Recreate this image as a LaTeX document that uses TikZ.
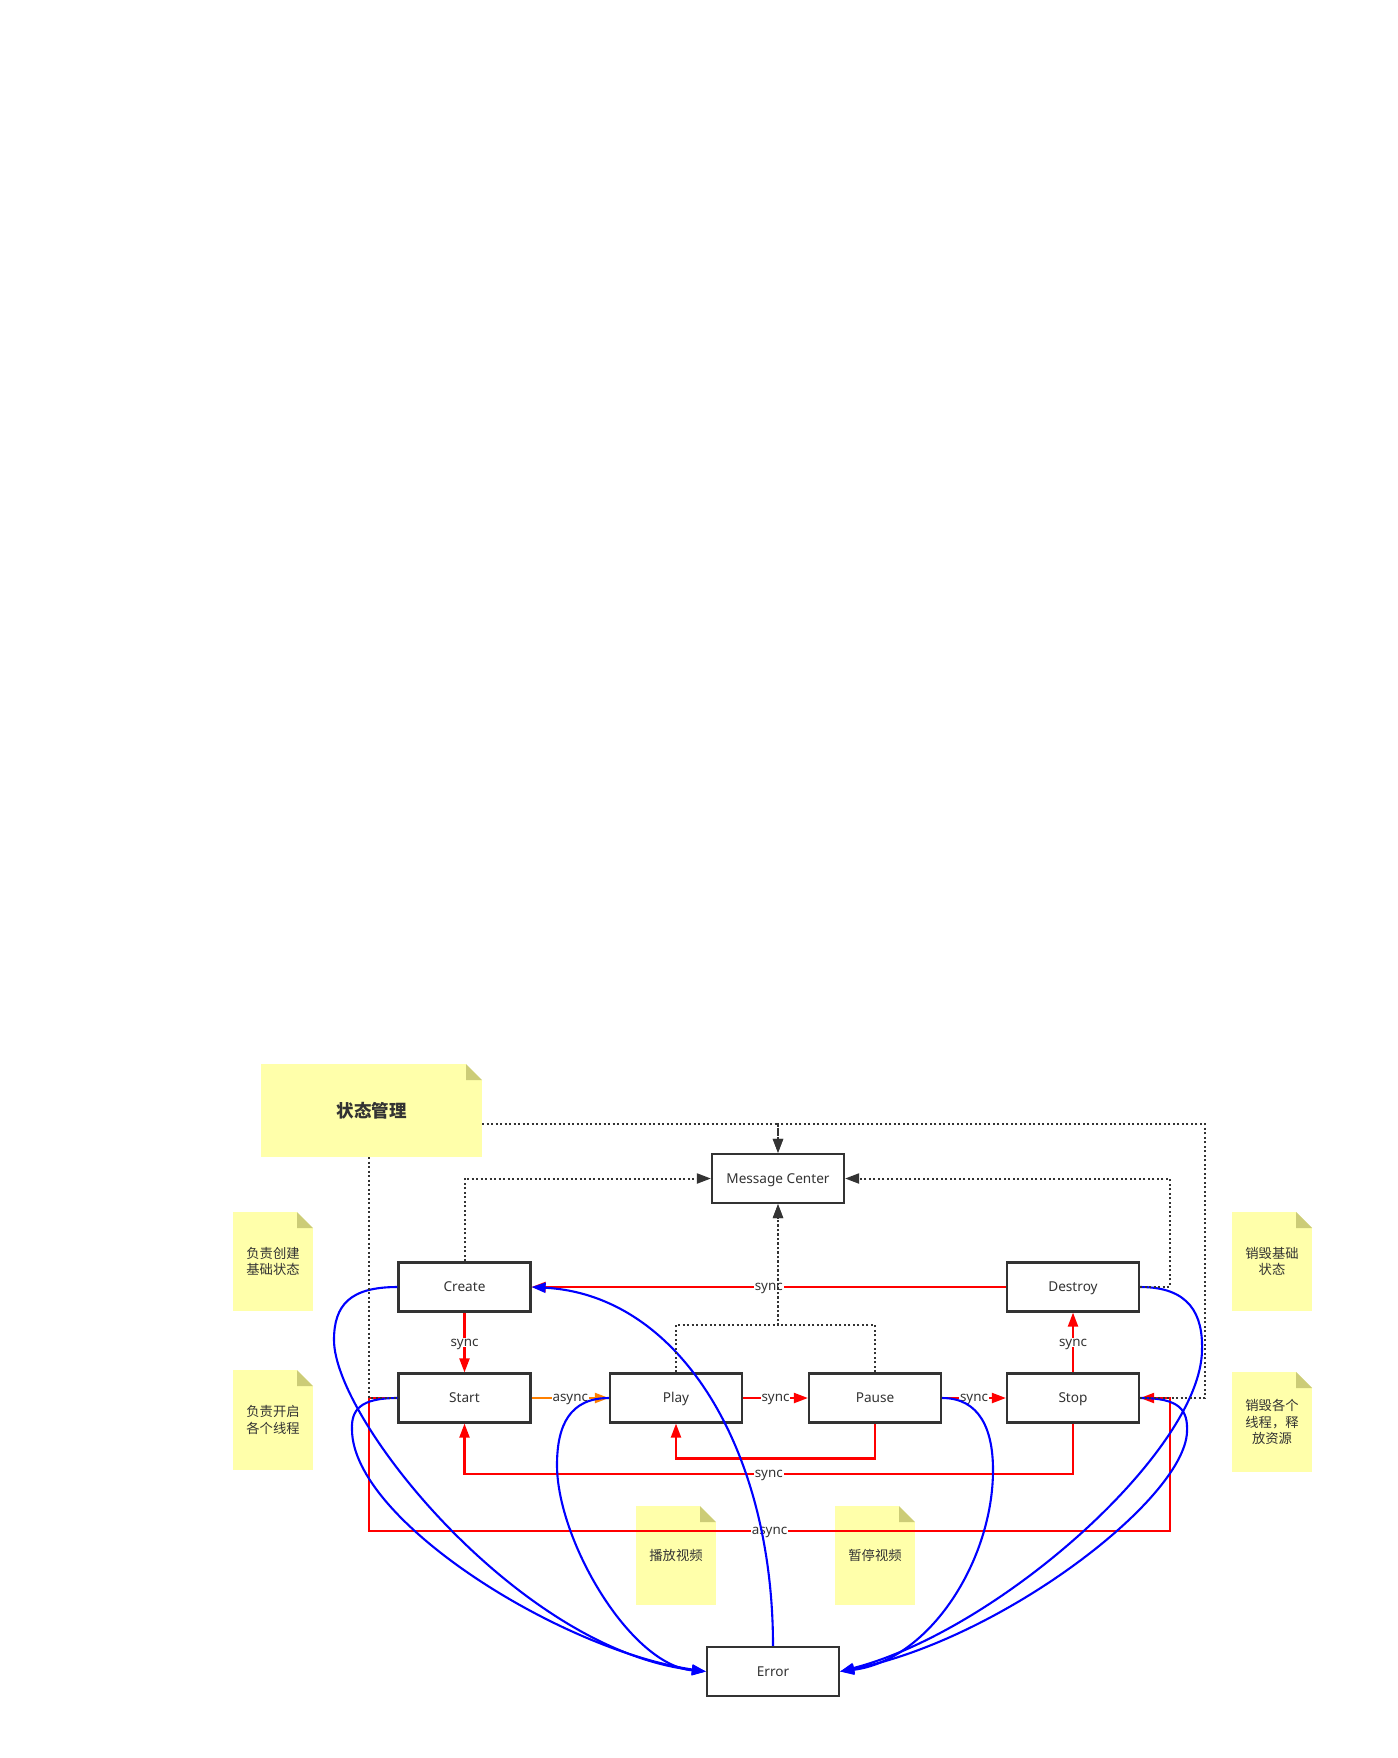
\documentclass[tikz,border=0pt]{standalone}
\usepackage{fontspec}
\setmainfont{Noto Sans}
\newfontfamily\cjk{Noto Sans CJK SC}
\usetikzlibrary{arrows.meta}
\definecolor{ink}{HTML}{333333}
\definecolor{rd}{HTML}{FF0000}
\definecolor{og}{HTML}{FF8000}
\definecolor{bl}{HTML}{0000FF}
\definecolor{notefill}{HTML}{FFFFAA}
\definecolor{foldc}{HTML}{CCCC77}
\begin{document}
\begin{tikzpicture}[x=1pt,y=-1pt,
  state/.style={draw=ink, line width=2.2pt, fill=white, minimum width=132pt, minimum height=49pt, inner sep=0pt, text=ink, text height=9.7pt, text depth=0pt, font=\fontsize{13.6}{16}\selectfont},
  note/.style={fill=notefill, inner sep=0pt, text=ink, align=center, font=\cjk\fontsize{13.3}{16.5}\selectfont,
    path picture={
      \fill[white] ([xshift=-16pt]path picture bounding box.north east) -- (path picture bounding box.north east) -- ([yshift=-16pt]path picture bounding box.north east) -- cycle;
      \fill[foldc] ([xshift=-16pt]path picture bounding box.north east) -- ([xshift=-16pt,yshift=-16pt]path picture bounding box.north east) -- ([yshift=-16pt]path picture bounding box.north east) -- cycle;
    }},
  lbl/.style={fill=white, inner sep=0.8pt, text=ink, text height=7pt, text depth=0pt, font=\fontsize{13.4}{15}\selectfont},
  tip/.style={-{Triangle[length=14pt,width=10pt]}},
  redline/.style={draw=rd, line width=2.1pt, tip},
  orangeline/.style={draw=og, line width=2.1pt, tip},
  bluecurve/.style={draw=bl, line width=2.1pt, tip},
  dots/.style={draw=ink, line width=2pt, dash pattern=on 2pt off 2.5pt},
  darrow/.style={dots, tip}
]
\useasboundingbox (0,0) rectangle (1397,1758);
\fill[white] (0,0) rectangle (1397,1758);

% notes
\node[note, minimum width=221pt, minimum height=93pt, font=\cjk\bfseries\fontsize{17.5}{20}\selectfont] (sm) at (371.5,1110.5) {状态管理};
\node[note, minimum width=80pt, minimum height=99pt] (n1) at (273,1261.5) {负责创建\\基础状态};
\node[note, minimum width=80pt, minimum height=100pt] (n2) at (273,1420) {负责开启\\各个线程};
\node[note, minimum width=80pt, minimum height=99pt] (n3) at (1272,1261.5) {销毁基础\\状态};
\node[note, minimum width=80pt, minimum height=100pt] (n4) at (1272,1422) {销毁各个\\线程，释\\放资源};
\node[note, minimum width=80pt, minimum height=99pt] (n5) at (676,1555.5) {播放视频};
\node[note, minimum width=80pt, minimum height=99pt] (n6) at (875,1555.5) {暂停视频};

% states
\node[state] (mc) at (778,1178.5) {Message Center};
\node[state] (create) at (464.5,1287) {Create};
\node[state] (destroy) at (1073,1287) {Destroy};
\node[state] (start) at (464.5,1398) {Start};
\node[state] (play) at (676,1398) {Play};
\node[state] (pause) at (875,1398) {Pause};
\node[state] (stop) at (1073,1398) {Stop};
\node[state] (error) at (773,1671.5) {Error};

% waypoints
\coordinate (pp1) at (875,1458.5);
\coordinate (pp2) at (676,1458.5);
\coordinate (ss1) at (1073,1474);
\coordinate (ss2) at (464.5,1474);
\coordinate (aa0) at (369,1398);
\coordinate (aa1) at (369,1531);
\coordinate (aa2) at (1170,1531);
\coordinate (aa3) at (1170,1398);
\coordinate (tt) at (1205,1124);
\coordinate (dd) at (1169.5,1178.5);
\coordinate (mb) at (778,1325);

% red / orange transitions
\draw[redline] (create.south) -- node[lbl]{sync} (start.north);
\draw[orangeline] (start.east) -- node[lbl]{async} (play.west);
\draw[redline] (play.east) -- node[lbl]{sync} (pause.west);
\draw[redline] (pause.east) -- node[lbl]{sync} (stop.west);
\draw[redline] (stop.north) -- node[lbl]{sync} (destroy.south);
\draw[redline] (destroy.west) -- node[lbl]{sync} (create.east);
\draw[redline] (pause.south) -- (pp1) -- (pp2) -- (play.south);
\draw[redline] (stop.south) -- (ss1) -- node[lbl]{sync} (ss2) -- (start.south);
\draw[redline] (start.west) -- (aa0) -- (aa1) -- node[lbl]{async} (aa2) -- (aa3) -- (stop.east);

% blue error curves
\draw[bluecurve] (create.west) .. controls (350,1287) and (334,1305) .. (334,1340) .. controls (334,1420) and (520,1650) .. (error.west);
\draw[bluecurve] (start.west) .. controls (360,1398) and (351,1410) .. (352,1430) .. controls (353,1520) and (560,1650) .. (error.west);
\draw[bluecurve] (play.west) .. controls (570,1398) and (557,1425) .. (557,1465) .. controls (557,1540) and (630,1665) .. (error.west);
\draw[bluecurve] (error.north) .. controls (773,1450) and (680,1295) .. (create.east);
\draw[bluecurve] (pause.east) .. controls (980,1398) and (993,1430) .. (993,1470) .. controls (993,1560) and (930,1660) .. (error.east);
\draw[bluecurve] (stop.east) .. controls (1180,1398) and (1188,1410) .. (1187,1432) .. controls (1184,1500) and (1000,1640) .. (error.east);
\draw[bluecurve] (destroy.east) .. controls (1190,1287) and (1203,1315) .. (1202,1350) .. controls (1201,1450) and (1000,1630) .. (error.east);

% dotted message links
\draw[darrow] ([yshift=-13.5pt]sm.east) -| (mc.north);
\draw[darrow] (stop.east) -| (tt) -| (mc.north);
\draw[dots] ([xshift=-2.5pt]sm.south) |- (start.west);
\draw[darrow] (create.north) |- (mc.west);
\draw[darrow] (destroy.east) -| (dd) -- (mc.east);
\draw[darrow] (play.north) |- (mb) -- (mc.south);
\draw[darrow] (pause.north) |- (mb) -- (mc.south);
\end{tikzpicture}
\end{document}
